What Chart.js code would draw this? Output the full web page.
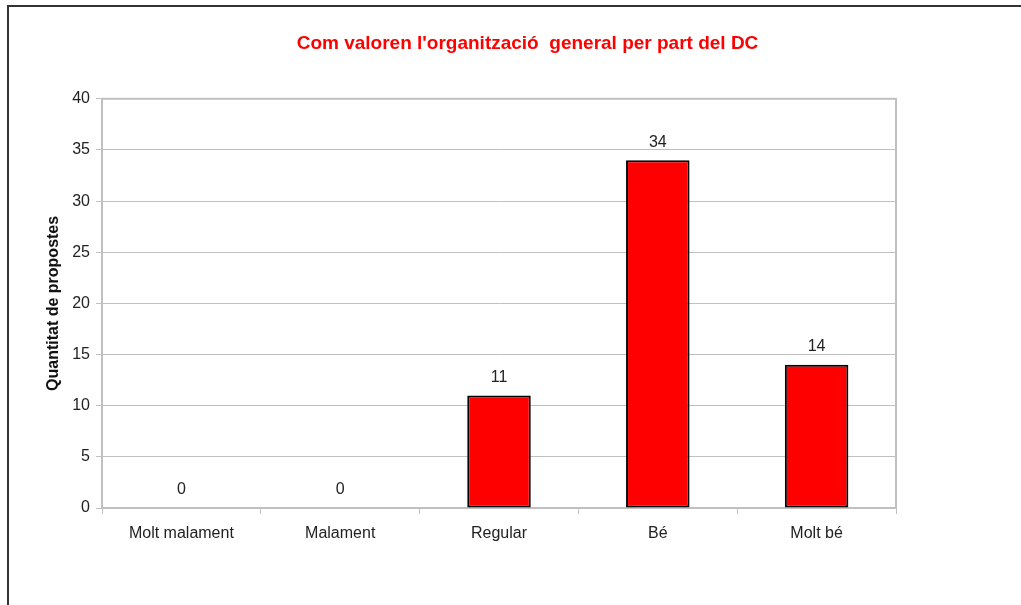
<!DOCTYPE html>
<html>
<head>
<meta charset="utf-8">
<script src="https://cdn.jsdelivr.net/npm/chart.js@4"></script>
<style>
  html, body { margin: 0; padding: 0; background: #fff; }
</style>
</head>
<body>
<canvas id="chart" width="1021" height="605"></canvas>
<script>
const categories = ['Molt malament', 'Malament', 'Regular', 'Bé', 'Molt bé'];
const counts = [0, 0, 11, 34, 14];
const yMax = 40;
const yStep = 5;

const chartTitle = "Com valoren l'organització  general per part del DC";
const yTitle = 'Quantitat de propostes';

const FONT = "'Liberation Sans', Arial, sans-serif";
Chart.defaults.font.family = FONT;
Chart.defaults.font.size = 16;
Chart.defaults.color = '#222';

// plot box in grey + the dark outer frame
const framePlugin = {
    id: 'frame',
    beforeDatasetsDraw(chart) {
        const { ctx, chartArea: a } = chart;
        ctx.save();
        ctx.strokeStyle = '#c0c0c0';
        ctx.lineWidth = 2;
        ctx.strokeRect(a.left, a.top, a.right - a.left, a.bottom - a.top);
        ctx.restore();
    },
    afterDraw(chart) {
        const ctx = chart.ctx;
        ctx.save();
        ctx.strokeStyle = '#333';
        ctx.lineWidth = 2;
        ctx.strokeRect(8, 6, 1200, 800);
        ctx.restore();
    }
};

// numbers above the bars
const valueLabels = {
    id: 'valueLabels',
    afterDatasetsDraw(chart) {
        const ctx = chart.ctx;
        const meta = chart.getDatasetMeta(0);
        ctx.save();
        ctx.font = '16px ' + FONT;
        ctx.fillStyle = '#222';
        ctx.textAlign = 'center';
        ctx.textBaseline = 'middle';
        meta.data.forEach((bar, i) => {
            ctx.fillText(String(counts[i]), bar.x, bar.y - 18);
        });
        ctx.restore();
    }
};

new Chart(document.getElementById('chart'), {
    type: 'bar',
    data: {
        labels: categories,
        datasets: [{
            label: 'Propostes',
            data: counts,
            backgroundColor: '#ff0000',
            borderColor: '#000',
            borderWidth: 2,
            borderSkipped: false,
            barPercentage: 0.4,
            categoryPercentage: 1
        }]
    },
    options: {
        responsive: false,
        animation: false,
        devicePixelRatio: 1,
        layout: { padding: { left: 34, right: 0, top: 0, bottom: 0 } },
        plugins: {
            legend: { display: false },
            tooltip: { enabled: false },
            title: {
                display: true,
                text: chartTitle,
                color: '#ff0000',
                font: { size: 19, weight: 'bold' },
                padding: { top: 32, bottom: 44 }
            }
        },
        scales: {
            x: {
                grid: {
                    offset: true,
                    drawOnChartArea: false,
                    color: '#c0c0c0',
                    tickLength: 6
                },
                border: { color: '#c0c0c0', width: 2 },
                ticks: { padding: 10, maxRotation: 0 },
                afterFit(s) { s.height = 97; }
            },
            y: {
                min: 0,
                max: yMax,
                ticks: { stepSize: yStep, padding: 6 },
                grid: { color: '#c0c0c0', tickLength: 6 },
                border: { color: '#c0c0c0', width: 2 },
                title: {
                    display: true,
                    text: yTitle,
                    font: { size: 16, weight: 'bold' },
                    color: '#111',
                    padding: { top: 10, bottom: 0 }
                },
                afterFit(s) { s.width = 68; }
            },
            // empty spacer on the right so the plot stops where the original does
            spacer: {
                position: 'right',
                display: true,
                grid: { display: false },
                border: { display: false },
                ticks: { display: false },
                afterFit(s) { s.width = 125; }
            }
        }
    },
    plugins: [framePlugin, valueLabels]
});
</script>
</body>
</html>
